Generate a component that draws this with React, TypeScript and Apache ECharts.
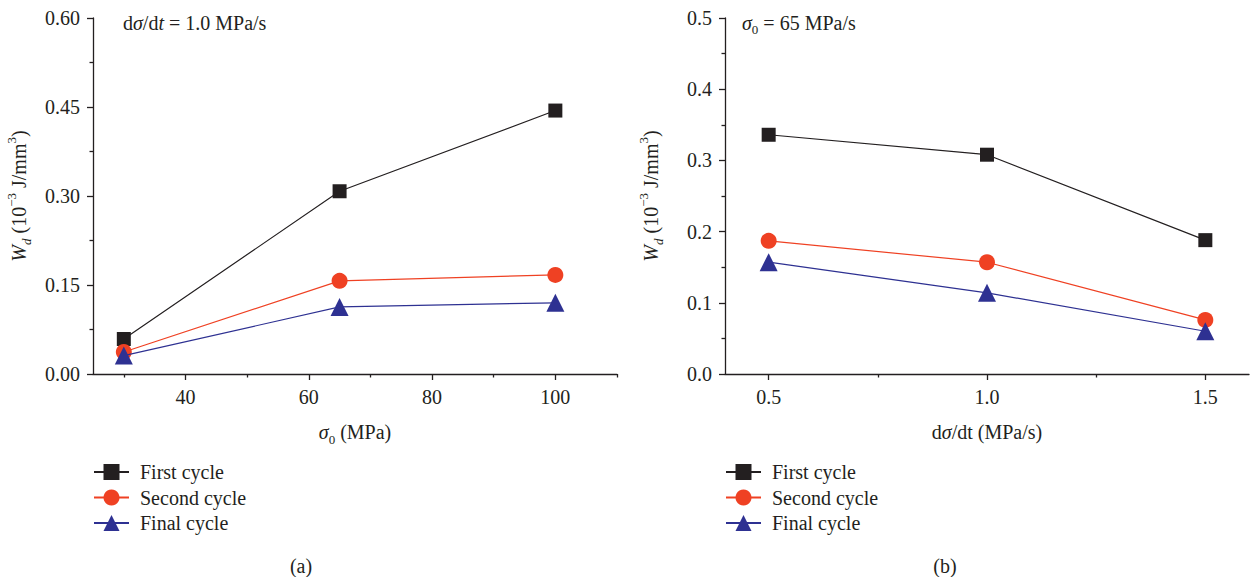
import React, { useEffect, useRef } from "react";
import * as echarts from "echarts";

// ---------- data ----------
const sigma0 = [30, 65, 100];
const firstA = [0.059, 0.308, 0.444];
const secondA = [0.037, 0.157, 0.167];
const finalA = [0.031, 0.113, 0.12];

const rate = [0.5, 1.0, 1.5];
const firstB = [0.336, 0.308, 0.188];
const secondB = [0.187, 0.157, 0.076];
const finalB = [0.157, 0.114, 0.06];

const seriesNames = ["First cycle", "Second cycle", "Final cycle"];
const xTicksA = [40, 60, 80, 100];
const xMinorA = [30, 50, 70, 90, 110];
const xTicksB = [0.5, 1.0, 1.5];
const xMinorB = [0.75, 1.25];

// ---------- style ----------
const FONT = "'Liberation Serif', 'Times New Roman', serif";
const INK = "#231f20";
const COLORS = ["#231f20", "#ef4123", "#2e3192"];
const SYMBOLS = ["rect", "circle", "triangle"];
const SIZES = [14, 16, 18];
const FS = 20;

const richDefs = {
  it: { fontStyle: "italic", fontSize: FS, fontFamily: FONT, color: INK },
  sub: { fontSize: 13, fontFamily: FONT, color: INK, verticalAlign: "bottom" },
  subi: { fontSize: 13, fontStyle: "italic", fontFamily: FONT, color: INK, verticalAlign: "bottom" },
  sup: { fontSize: 13, fontFamily: FONT, color: INK, verticalAlign: "top" },
};

const nameStyle = {
  fontSize: FS,
  fontFamily: FONT,
  color: INK,
  lineHeight: 28,
  rich: richDefs,
};

const axisLine = { show: true, lineStyle: { color: INK, width: 1.3 } };

function majorX(grid: number, min: number, max: number, ticks: number[], fmt: (v: number) => string, name: string) {
  return {
    type: "value",
    gridIndex: grid,
    position: "bottom",
    min,
    max,
    axisLine,
    axisTick: { show: true, customValues: ticks, length: 6, lineStyle: { color: INK, width: 1.3 } },
    axisLabel: {
      customValues: ticks,
      formatter: fmt,
      margin: 13,
      fontSize: FS,
      fontFamily: FONT,
      color: INK,
    },
    splitLine: { show: false },
    name,
    nameLocation: "middle",
    nameGap: 44,
    nameTextStyle: nameStyle,
  };
}

function minorX(grid: number, min: number, max: number, ticks: number[]) {
  return {
    type: "value",
    gridIndex: grid,
    position: "bottom",
    offset: 0,
    min,
    max,
    axisLine: { show: false },
    axisTick: { show: true, customValues: ticks, length: 3.5, lineStyle: { color: INK, width: 1.3 } },
    axisLabel: { show: false },
    splitLine: { show: false },
  };
}

function yAx(grid: number, max: number, interval: number, digits: number) {
  return {
    type: "value",
    gridIndex: grid,
    min: 0,
    max,
    interval,
    axisLine,
    axisTick: { show: true, length: 6, lineStyle: { color: INK, width: 1.3 } },
    minorTick: { show: true, splitNumber: 2, length: 3.5, lineStyle: { color: INK, width: 1.3 } },
    axisLabel: {
      formatter: (v: number) => v.toFixed(digits),
      margin: 13,
      fontSize: FS,
      fontFamily: FONT,
      color: INK,
    },
    splitLine: { show: false },
    minorSplitLine: { show: false },
    name: "{it|W}{subi|d} (10{sup|−3} J/mm{sup|3})",
    nameLocation: "middle",
    nameRotate: 90,
    nameGap: 60,
    nameTextStyle: nameStyle,
  };
}

function makeSeries(xs: number[], ys: number[][], xAxisIndex: number, yAxisIndex: number) {
  return ys.map((vals, i) => ({
    type: "line",
    name: seriesNames[i],
    xAxisIndex,
    yAxisIndex,
    data: xs.map((x, k) => [x, vals[k]]),
    symbol: SYMBOLS[i],
    symbolSize: SIZES[i],
    itemStyle: { color: COLORS[i], opacity: 1 },
    lineStyle: { color: COLORS[i], width: 1.2 },
    z: 2 + i,
  }));
}

function legend(left: number) {
  return {
    orient: "vertical",
    left,
    top: 462,
    padding: 0,
    itemWidth: 35,
    itemHeight: 20,
    itemGap: 5.5,
    selectedMode: false,
    data: seriesNames,
    textStyle: { fontSize: FS, fontFamily: FONT, color: INK, padding: [0, 0, 0, 6] },
  };
}

const option = {
  animation: false,
  backgroundColor: "#ffffff",
  textStyle: { fontFamily: FONT },
  grid: [
    { left: 93, right: 1250 - 617, top: 18, bottom: 577 - 374, containLabel: false },
    { left: 725, right: 1250 - 1249, top: 18, bottom: 577 - 374, containLabel: false },
  ],
  xAxis: [
    majorX(0, 25, 110, xTicksA, (v: number) => String(v), "{it|σ}{sub|0} (MPa)"),
    minorX(0, 25, 110, xMinorA),
    majorX(1, 0.4, 1.6, xTicksB, (v: number) => v.toFixed(1), "d{it|σ}/dt (MPa/s)"),
    minorX(1, 0.4, 1.6, xMinorB),
  ],
  yAxis: [yAx(0, 0.6, 0.15, 2), yAx(1, 0.5, 0.1, 1)],
  legend: [legend(93), legend(725)],
  series: [
    ...makeSeries(sigma0, [firstA, secondA, finalA], 0, 0),
    ...makeSeries(rate, [firstB, secondB, finalB], 2, 1),
  ],
  graphic: [
    {
      type: "text",
      x: 123,
      y: 23,
      style: {
        text: "d{it|σ}/d{it|t} = 1.0 MPa/s",
        fontSize: FS,
        fontFamily: FONT,
        fill: INK,
        lineHeight: 26,
        align: "left",
        verticalAlign: "middle",
        rich: richDefs,
      },
    },
    {
      type: "text",
      x: 742,
      y: 23,
      style: {
        text: "{it|σ}{sub|0} = 65 MPa/s",
        fontSize: FS,
        fontFamily: FONT,
        fill: INK,
        lineHeight: 26,
        align: "left",
        verticalAlign: "middle",
        rich: richDefs,
      },
    },
    {
      type: "text",
      x: 301,
      y: 566,
      style: { text: "(a)", fontSize: FS, fontFamily: FONT, fill: INK, align: "center", verticalAlign: "middle" },
    },
    {
      type: "text",
      x: 945,
      y: 566,
      style: { text: "(b)", fontSize: FS, fontFamily: FONT, fill: INK, align: "center", verticalAlign: "middle" },
    },
  ],
};

export default function App() {
  const ref = useRef<HTMLDivElement>(null);
  useEffect(() => {
    const chart = echarts.init(ref.current!, null, { renderer: "svg" });
    chart.setOption(option as any);
    return () => chart.dispose();
  }, []);
  return (
    <div
      ref={ref}
      style={{ position: "fixed", left: 0, top: 0, width: 1250, height: 577, background: "#fff" }}
    />
  );
}
